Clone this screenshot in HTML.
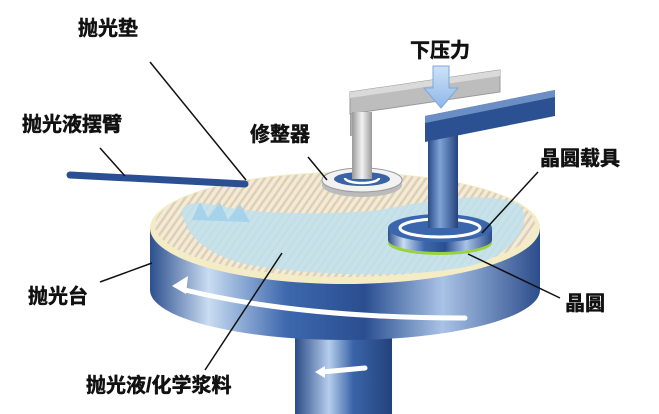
<!DOCTYPE html>
<html><head><meta charset="utf-8"><style>
html,body{margin:0;padding:0;background:#fff;}
svg{display:block}
text{font-family:"Liberation Sans","Noto Sans CJK SC",sans-serif;font-weight:bold;font-size:20px;fill:#111;stroke:#111;stroke-width:0.5}
</style></head><body>
<svg width="659" height="414" viewBox="0 0 659 414" xmlns="http://www.w3.org/2000/svg">
<defs>
<linearGradient id="side" x1="0" x2="1" y1="0" y2="0">
<stop offset="0" stop-color="#2d4f8e"/><stop offset="0.15" stop-color="#c9dcf2"/><stop offset="0.35" stop-color="#3d68ad"/><stop offset="0.55" stop-color="#2a4e90"/><stop offset="0.75" stop-color="#a9c3e6"/><stop offset="1" stop-color="#2c4d8c"/>
</linearGradient>
<linearGradient id="shaft" x1="0" x2="1"><stop offset="0" stop-color="#2a4b88"/><stop offset="0.35" stop-color="#b6cdec"/><stop offset="0.6" stop-color="#3a64a8"/><stop offset="1" stop-color="#23427c"/></linearGradient>
<linearGradient id="col" x1="0" x2="1"><stop offset="0" stop-color="#2a4b88"/><stop offset="0.4" stop-color="#7fa3d6"/><stop offset="1" stop-color="#23427c"/></linearGradient>
<linearGradient id="gcol" x1="0" x2="1"><stop offset="0" stop-color="#999"/><stop offset="0.5" stop-color="#f2f2f2"/><stop offset="1" stop-color="#9a9a9a"/></linearGradient>
<pattern id="stripe" width="6" height="6" patternUnits="userSpaceOnUse" patternTransform="rotate(35)">
<rect width="6" height="6" fill="#f3ead8"/><rect width="2.5" height="6" fill="#ddd0b4"/></pattern>
<linearGradient id="arr" x1="0" x2="0" y1="0" y2="1"><stop offset="0" stop-color="#cfe2f8"/><stop offset="1" stop-color="#8db6e8"/></linearGradient>
</defs>
<rect x="295" y="320" width="97" height="94" fill="url(#shaft)"/>
<path d="M322 372 L365 368" stroke="#fff" stroke-width="5" stroke-linecap="round"/>
<path d="M315 372 l10 -6 v12z" fill="#fff"/>
<path d="M150 228 L150 290 A195 50 0 0 0 540 290 L540 228 Z" fill="url(#side)"/>
<ellipse cx="345" cy="228" rx="195" ry="56" fill="#f3ecc4"/>
<ellipse cx="345" cy="225" rx="190" ry="52" fill="url(#stripe)"/>
<path d="M185 222 C175 205 190 200 215 205 C260 215 330 215 380 210 C430 200 490 190 520 205 C535 225 510 260 460 268 C400 278 320 276 250 265 C215 258 190 240 185 222Z" fill="#bfe1ee" opacity="0.85"/>
<path d="M192 220 l8 -18 8 16 12 -16 8 18 12 -16 10 18z" fill="#9cd0ec" opacity="0.8"/>
<path d="M185 290 Q300 318 465 318" stroke="#fff" stroke-width="5" fill="none" stroke-linecap="round"/>
<path d="M172 286 l16 -10 l-2 18z" fill="#fff"/>
<!-- dresser -->
<rect x="350" y="96" width="12" height="40" fill="url(#gcol)"/>
<polygon points="350,92 500,70 500,92 350,114" fill="#bdbdbd" stroke="#999"/>
<polygon points="350,92 500,70 500,76 350,98" fill="#dadada"/>
<rect x="352" y="112" width="20" height="65" fill="url(#gcol)"/>
<ellipse cx="362" cy="185" rx="40" ry="12" fill="#bbb"/>
<ellipse cx="362" cy="180" rx="40" ry="12" fill="#f2f2f2" stroke="#999"/>
<ellipse cx="362" cy="179" rx="28" ry="7" fill="#3a63a6"/>
<path d="M345 178 a17 5 0 0 0 34 0" stroke="#fff" stroke-width="2.5" fill="none"/>
<rect x="352" y="160" width="20" height="19" fill="url(#gcol)"/>
<line x1="70" y1="175" x2="245" y2="184" stroke="#2b4f93" stroke-width="7" stroke-linecap="round"/>
<polygon points="433,66 449,66 449,88 458,88 441,108 424,88 433,88" fill="url(#arr)" stroke="#7fa7dc"/>
<!-- carrier -->
<rect x="428" y="130" width="30" height="95" fill="url(#col)"/>
<polygon points="425,116 555,90 555,116 425,142" fill="#2c5193"/>
<polygon points="425,116 555,90 555,97 425,123" fill="#6b8fc4"/>
<ellipse cx="440" cy="243" rx="52" ry="12" fill="#9bd33a"/>
<path d="M388 228 L388 240 A52 12 0 0 0 492 240 L492 228Z" fill="url(#side)"/>
<ellipse cx="440" cy="228" rx="52" ry="14" fill="#3966ad"/>
<ellipse cx="440" cy="228" rx="40" ry="9" fill="none" stroke="#fff" stroke-width="3"/>
<rect x="428" y="180" width="30" height="48" fill="url(#col)"/>
<g stroke="#111" stroke-width="1.5">
<line x1="150" y1="62" x2="246" y2="180"/>
<line x1="100" y1="148" x2="125" y2="176"/>
<line x1="308" y1="157" x2="327" y2="180"/>
<line x1="538" y1="172" x2="482" y2="233"/>
<line x1="100" y1="282" x2="152" y2="263"/>
<line x1="560" y1="298" x2="468" y2="254"/>
<line x1="205" y1="370" x2="282" y2="253"/>
</g>
<text x="78" y="35">抛光垫</text>
<text x="22" y="131">抛光液摆臂</text>
<text x="250" y="141">修整器</text>
<text x="410" y="57">下压力</text>
<text x="540" y="165">晶圆载具</text>
<text x="28" y="303">抛光台</text>
<text x="565" y="310">晶圆</text>
<text x="86" y="392">抛光液/化学浆料</text>
</svg>
</body></html>
